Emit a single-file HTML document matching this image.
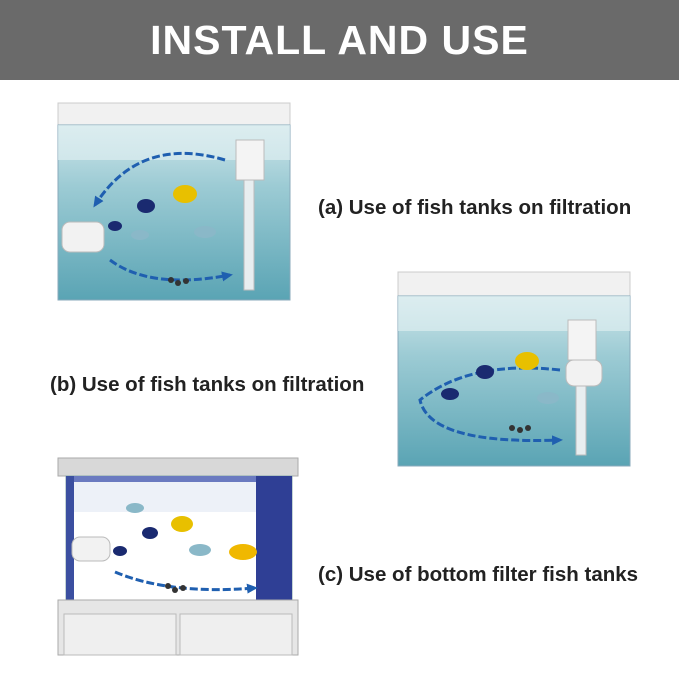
<!DOCTYPE html>
<html><head><meta charset="utf-8"><style>
body{margin:0;width:679px;height:679px;background:#fff;position:relative;overflow:hidden;font-family:"Liberation Sans",sans-serif}
.hdr{position:absolute;left:0;top:0;width:679px;height:80px;background:#6a6a6a;color:#fff;font-weight:bold;font-size:41px;text-align:center;line-height:80px;letter-spacing:1px}
.t{position:absolute;font-weight:bold;font-size:20.5px;color:#222;white-space:nowrap}
.ab{position:absolute}
</style></head><body>
<div class="hdr">INSTALL AND USE</div>

<svg class="ab" style="left:0;top:0" width="679" height="679">
<defs>
<linearGradient id="w" x1="0" y1="0" x2="0" y2="1"><stop offset="0" stop-color="#cfe6ea"/><stop offset="0.35" stop-color="#9ccbd4"/><stop offset="1" stop-color="#5aa4b4"/></linearGradient>
<marker id="ar" markerUnits="userSpaceOnUse" markerWidth="12" markerHeight="12" refX="8" refY="6" orient="auto"><path d="M0,1 L11,6 L0,11z" fill="#1f5fb0"/></marker>
</defs>
<!-- Tank A -->
<rect x="58" y="103" width="232" height="22" fill="#f1f1f1" stroke="#ccc"/>
<rect x="58" y="125" width="232" height="175" fill="url(#w)" stroke="#8ab"/>
<rect x="58" y="125" width="232" height="35" fill="#e4f1f3" opacity="0.6"/>
<rect x="236" y="140" width="28" height="40" fill="#f4f4f4" stroke="#bbb"/>
<rect x="244" y="180" width="10" height="110" fill="#e8eef0" stroke="#bbb"/>
<rect x="62" y="222" width="42" height="30" rx="8" fill="#f2f2f2" stroke="#bbb"/>
<path d="M225 160 Q140 135 95 205" fill="none" stroke="#1f5fb0" stroke-width="3" stroke-dasharray="8 3" marker-end="url(#ar)"/>
<path d="M110 260 Q150 290 230 275" fill="none" stroke="#1f5fb0" stroke-width="3" stroke-dasharray="8 3" marker-end="url(#ar)"/>
<ellipse cx="185" cy="194" rx="12" ry="9" fill="#e8c000"/><ellipse cx="146" cy="206" rx="9" ry="7" fill="#1a2a70"/>
<ellipse cx="205" cy="232" rx="11" ry="6" fill="#8ab8c8"/><ellipse cx="140" cy="235" rx="9" ry="5" fill="#8ab8c8"/>
<ellipse cx="115" cy="226" rx="7" ry="5" fill="#1a2a70"/>
<circle cx="178" cy="283" r="3" fill="#333"/><circle cx="186" cy="281" r="3" fill="#333"/><circle cx="171" cy="280" r="3" fill="#333"/>
<!-- Tank B -->
<rect x="398" y="272" width="232" height="24" fill="#f1f1f1" stroke="#ccc"/>
<rect x="398" y="296" width="232" height="170" fill="url(#w)" stroke="#8ab"/>
<rect x="398" y="296" width="232" height="35" fill="#e4f1f3" opacity="0.6"/>
<rect x="568" y="320" width="28" height="40" fill="#f4f4f4" stroke="#bbb"/>
<rect x="576" y="360" width="10" height="95" fill="#e8eef0" stroke="#bbb"/>
<rect x="566" y="360" width="36" height="26" rx="8" fill="#f2f2f2" stroke="#bbb"/>
<path d="M560 370 Q470 360 420 400 Q430 445 560 440" fill="none" stroke="#1f5fb0" stroke-width="3" stroke-dasharray="8 3" marker-end="url(#ar)"/>
<ellipse cx="527" cy="361" rx="12" ry="9" fill="#e8c000"/><ellipse cx="485" cy="372" rx="9" ry="7" fill="#1a2a70"/>
<ellipse cx="450" cy="394" rx="9" ry="6" fill="#1a2a70"/><ellipse cx="548" cy="398" rx="11" ry="6" fill="#8ab8c8"/>
<circle cx="520" cy="430" r="3" fill="#333"/><circle cx="528" cy="428" r="3" fill="#333"/><circle cx="512" cy="428" r="3" fill="#333"/>
<!-- Tank C -->
<rect x="58" y="458" width="240" height="18" fill="#d8d8d8" stroke="#aaa"/>
<rect x="66" y="476" width="226" height="124" fill="#fff" stroke="#8aa"/>
<rect x="74" y="482" width="182" height="30" fill="#e6ebf5" opacity="0.7"/>
<rect x="66" y="476" width="8" height="124" fill="#3b4fa0"/>
<rect x="256" y="476" width="36" height="124" fill="#2f3f95"/>
<rect x="74" y="476" width="182" height="6" fill="#6a7ac0"/>
<rect x="72" y="537" width="38" height="24" rx="8" fill="#f2f2f2" stroke="#bbb"/>
<path d="M115 572 Q170 595 255 588" fill="none" stroke="#1f5fb0" stroke-width="3" stroke-dasharray="8 3" marker-end="url(#ar)"/>
<ellipse cx="182" cy="524" rx="11" ry="8" fill="#e8c000"/><ellipse cx="150" cy="533" rx="8" ry="6" fill="#1a2a70"/>
<ellipse cx="243" cy="552" rx="14" ry="8" fill="#f0b800"/><ellipse cx="120" cy="551" rx="7" ry="5" fill="#1a2a70"/>
<ellipse cx="135" cy="508" rx="9" ry="5" fill="#8ab8c8"/><ellipse cx="200" cy="550" rx="11" ry="6" fill="#8ab8c8"/>
<circle cx="175" cy="590" r="3" fill="#333"/><circle cx="183" cy="588" r="3" fill="#333"/><circle cx="168" cy="586" r="3" fill="#333"/>
<rect x="58" y="600" width="240" height="55" fill="#e6e6e6" stroke="#aaa"/>
<rect x="64" y="614" width="112" height="41" fill="#efefef" stroke="#bbb"/>
<rect x="180" y="614" width="112" height="41" fill="#efefef" stroke="#bbb"/>
</svg>

<div class="t" style="left:318px;top:196px">(a) Use of fish tanks on filtration</div>
<div class="t" style="left:50px;top:373px">(b) Use of fish tanks on filtration</div>
<div class="t" style="left:318px;top:563px">(c) Use of bottom filter fish tanks</div>
</body></html>
